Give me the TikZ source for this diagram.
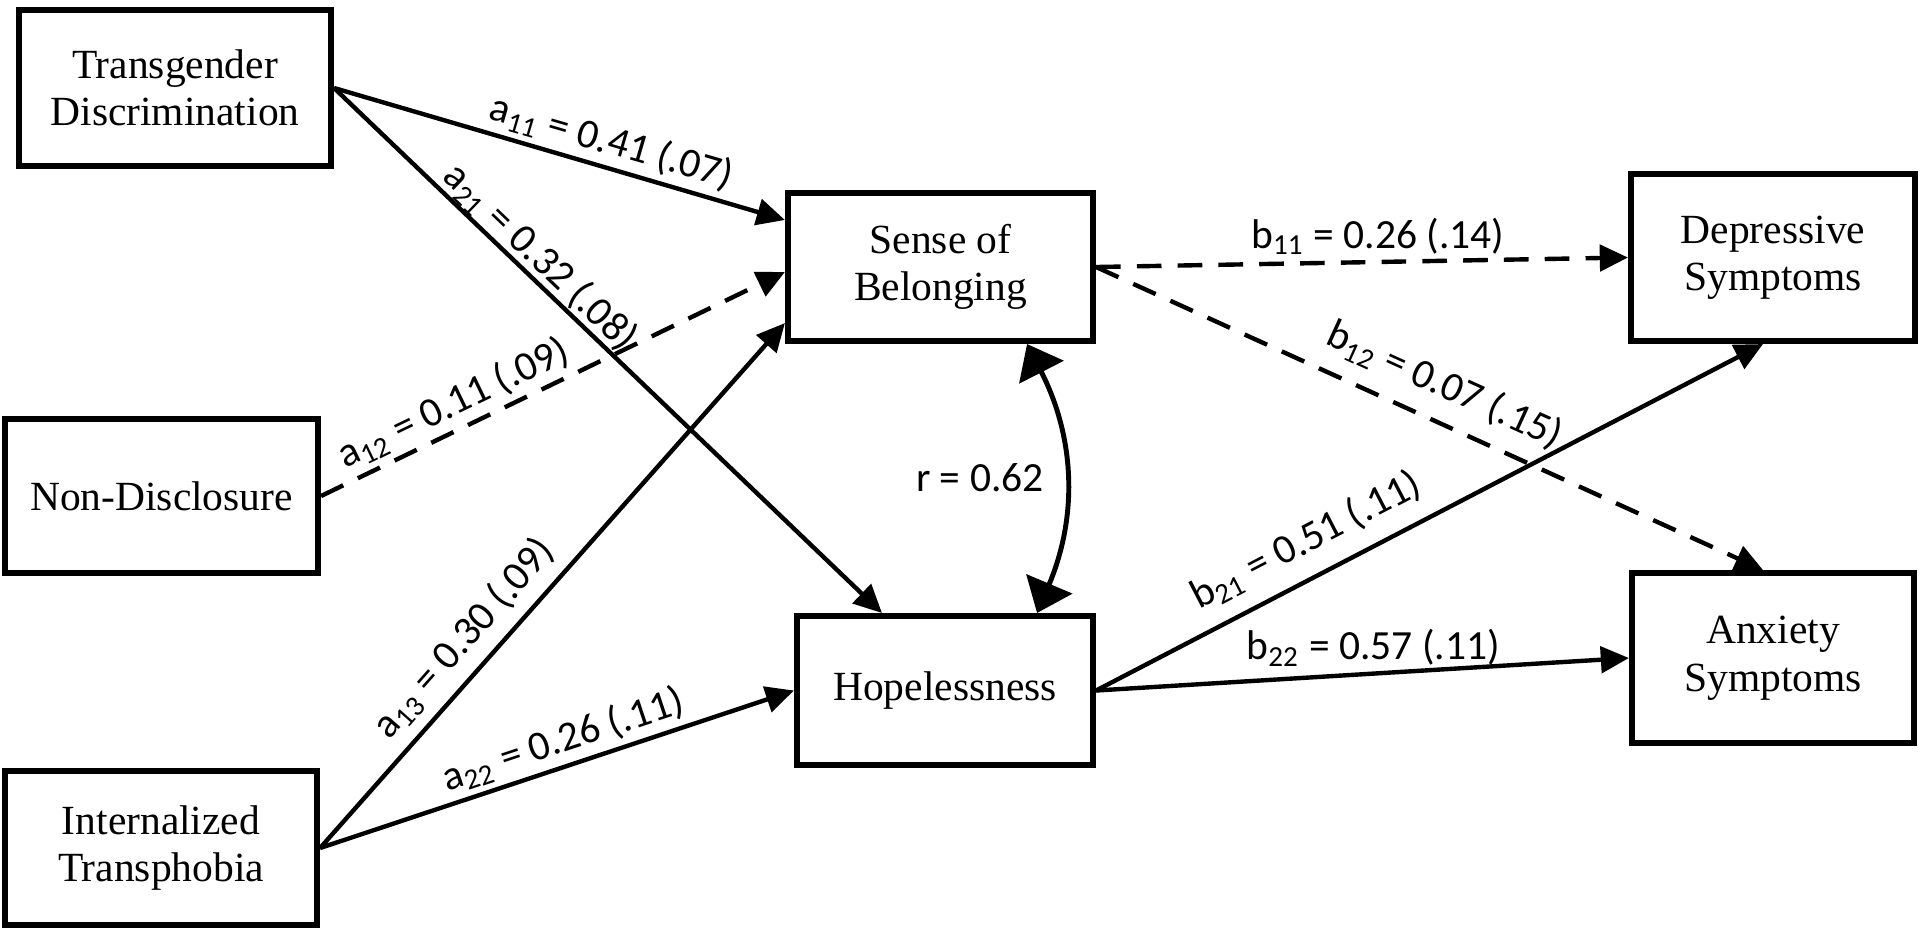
\documentclass[tikz,border=0pt]{standalone}
\usepackage{fontspec}
\setmainfont{Liberation Serif}
\newfontfamily\lblfont{Carlito}
\usetikzlibrary{arrows.meta}

\tikzset{
  var/.style={draw, line width=1.7pt, align=center, inner sep=2pt,
    font=\fontsize{11.8}{13.5}\selectfont},
  effect/.style={-{Triangle[length=8pt,width=7.5pt]}, line width=1.25pt},
  nseffect/.style={effect, dash pattern=on 7pt off 4.6pt},
  coef/.style={font=\lblfont\fontsize{11.8}{13}\selectfont, inner sep=1.5pt},
  corr/.style={{Triangle[length=9pt,width=14pt]}-{Triangle[length=9pt,width=14pt]},
    line width=1.4pt}
}

\begin{document}
\begin{tikzpicture}[x=0.01cm,y=-0.01cm]
\useasboundingbox (0,0) rectangle (1920,935);

\node[var, minimum width=3.12cm, minimum height=1.56cm] (td) at (175,88) {Transgender\\Discrimination};
\node[var, minimum width=3.13cm, minimum height=1.54cm] (nd) at (161.5,496) {Non-Disclosure};
\node[var, minimum width=3.12cm, minimum height=1.54cm] (it) at (161,848) {Internalized\\Transphobia};

\node[var, minimum width=3.05cm, minimum height=1.48cm] (sob) at (940.5,267) {Sense of\\Belonging};
\node[var, minimum width=2.96cm, minimum height=1.49cm] (hope) at (945,690.5) {Hopelessness};

\node[var, minimum width=2.84cm, minimum height=1.67cm] (dep) at (1773,257.5) {Depressive\\Symptoms};
\node[var, minimum width=2.82cm, minimum height=1.70cm] (anx) at (1773,658) {Anxiety\\Symptoms};

% a paths
\draw[effect] (td.east) -- node[coef, sloped, above, pos=0.6] {a\textsubscript{11} = 0.41 (.07)} ([yshift=0.47cm]sob.west);
\draw[effect] (td.east) -- node[coef, sloped, above=-1.5pt, pos=0.35] {a\textsubscript{21} = 0.32 (.08)} ([xshift=-0.63cm]hope.north);
\draw[nseffect] (nd.east) -- node[coef, sloped, above, pos=0.31] {a\textsubscript{12} = 0.11 (.09)} ([yshift=-0.05cm]sob.west);
\draw[effect] (it.east) -- node[coef, sloped, above=1.5pt, pos=0.36] {a\textsubscript{13} = 0.30 (.09)} ([yshift=-0.56cm]sob.west);
\draw[effect] (it.east) -- node[coef, sloped, above, pos=0.53] {a\textsubscript{22} = 0.26 (.11)} (hope.west);

% b paths
\draw[nseffect] (sob.east) -- node[coef, above, pos=0.53] {b\textsubscript{11} = 0.26 (.14)} (dep.west);
\draw[nseffect] (sob.east) -- node[coef, sloped, above=3pt, pos=0.5] {b\textsubscript{12} = 0.07 (.15)} ([xshift=-0.1cm]anx.north);
\draw[effect] (hope.east) -- node[coef, sloped, above=3pt, pos=0.34] {b\textsubscript{21} = 0.51 (.11)} ([xshift=-0.1cm]dep.south);
\draw[effect] (hope.east) -- node[coef, above, pos=0.52] {b\textsubscript{22} = 0.57 (.11)} (anx.west);

% correlation
\draw[corr] ([xshift=0.865cm]sob.south) to[bend left=25] node[coef, left=4pt] {r = 0.62} ([xshift=0.92cm]hope.north);
\end{tikzpicture}
\end{document}
